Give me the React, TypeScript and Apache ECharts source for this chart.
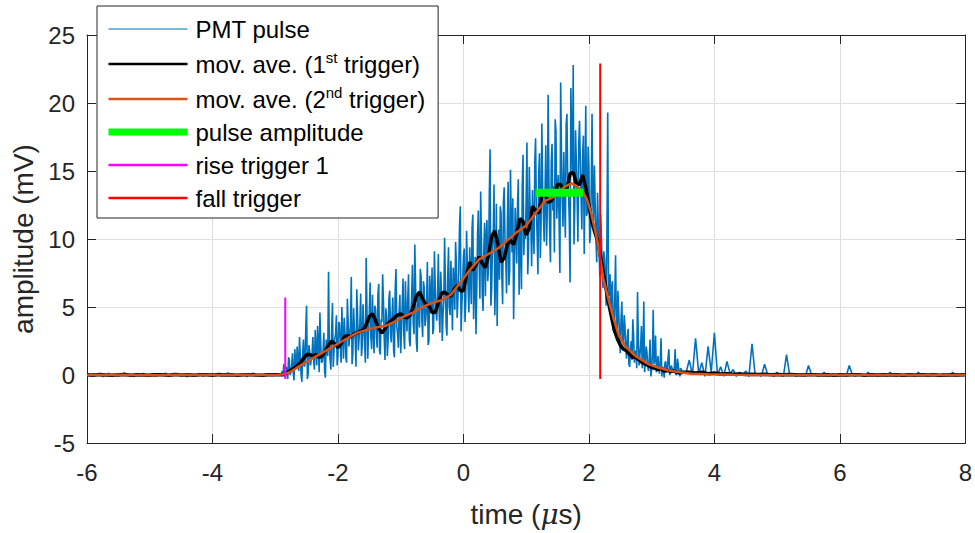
import React, { useEffect, useRef } from 'react';
import * as echarts from 'echarts';

const FONT = '"Liberation Sans", Arial, Helvetica, sans-serif';
const AXIS_COLOR = '#262626';

// Axis ranges / ticks
const xTicks = [-6, -4, -2, 0, 2, 4, 6, 8];
const yTicks = [-5, 0, 5, 10, 15, 20, 25];

// Series names
const names = [
  'PMT pulse',
  'mov. ave. (1st trigger)',
  'mov. ave. (2nd trigger)',
  'pulse amplitude',
  'rise trigger 1',
  'fall trigger',
];

// PMT pulse samples (mV). Segments with their own sampling start/step (µs)
const pmtPreStart = -6.0;
const pmtPreStep = 0.05;
const pmtPre = [
  0.04, -0.06, 0.1, -0.02, 0.07, -0.11, 0.03, 0.12, -0.05, 0.01,
  -0.09, 0.06, 0.14, -0.03, 0.02, -0.12, 0.08, -0.01, 0.11, -0.07,
  0.03, 0.09, -0.1, 0.05, -0.04, 0.13, 0.0, -0.08, 0.06, 0.1,
  -0.05, 0.02, -0.13, 0.07, 0.04, -0.02, 0.11, -0.09, 0.05, 0.01,
  0.12, -0.06, 0.03, -0.1, 0.08, 0.15, -0.04, 0.02, -0.07, 0.09,
  0.0, -0.11, 0.06, 0.13, -0.03, 0.04, -0.08, 0.1, 0.02, -0.05,
  0.07, -0.02,
];
const pmtMainStart = -2.9;
const pmtMainStep = 0.025;
const pmtMain = [
  0.05, -0.1, 0.15, 0.6, -0.3, 1.1, 0.2, 1.6, -0.4, 0.9,
  2.1, 0.3, 1.4, -0.5, 2.6, 0.8, 5.1, 0.1, 1.7, 1.2,
  2.8, 0.4, 1.9, 3.6, 0.2, 2.4, 1.0, 3.1, -0.2, 2.0,
  7.6, 1.1, 3.3, 0.6, 2.7, 4.4, 1.5, 3.8, 0.9, 2.9,
  4.2, 1.3, 5.6, 2.1, 3.7, 0.8, 4.9, 2.6, 6.3, 1.8,
  3.9, 1.4, 5.2, 2.3, 8.6, 1.2, 4.6, 2.8, 5.9, 1.6,
  4.8, 2.0, 6.7, 1.5, 3.9, 5.4, 1.1, 4.3, 2.6, 6.2,
  2.4, 5.7, 1.3, 7.8, 3.1, 4.6, 1.6, 5.2, 2.9, 6.9,
  3.2, 7.4, 2.1, 5.9, 3.8, 9.6, 2.4, 6.1, 3.5, 7.2,
  2.8, 6.4, 4.1, 8.3, 2.5, 5.8, 7.9, 3.4, 6.6, 4.0,
  8.9, 3.1, 6.2, 4.5, 10.1, 3.6, 7.3, 5.0, 8.4, 3.3,
  6.9, 9.8, 4.2, 7.6, 12.4, 5.1, 8.7, 3.9, 10.6, 6.3,
  9.4, 5.2, 11.8, 7.1, 3.0, 10.3, 8.2, 13.5, 6.0, 9.1,
  5.8, 11.4, 7.9, 16.6, 6.3, 10.2, 4.4, 12.6, 8.8, 7.0,
  11.9, 5.2, 13.8, 8.4, 10.9, 6.6, 15.1, 9.0, 4.1, 12.3,
  8.2, 14.4, 9.7, 6.3, 16.2, 10.8, 12.9, 7.4, 15.3, 11.1,
  13.6, 8.9, 17.4, 10.2, 14.8, 8.6, 18.5, 11.7, 13.2, 9.5,
  20.6, 10.4, 15.7, 12.1, 9.0, 17.9, 13.3, 11.2, 21.5, 12.8,
  16.4, 10.1, 19.2, 13.5, 6.8, 17.3, 22.8, 12.4, 15.6, 9.8,
  18.7, 13.1, 16.2, 8.9, 19.8, 12.0, 15.1, 10.4, 19.2, 11.3,
  12.6, 8.3, 11.0, 7.2, 10.1, 6.4, 8.6, 5.1, 19.3, 5.8,
  4.2, 6.9, 3.1, 8.8, 2.5, 4.7, 1.6, 5.4, 2.2, 3.6,
  1.2, 3.4, 0.6, 2.5, 4.1, 0.9, 1.8, 6.1, 0.7, 2.2,
  0.5, 5.4, 0.9, 1.7, 0.3, 2.6, 0.4, 4.8, 1.1, 0.2,
  1.4, 0.1, 2.7, 0.6, -0.2, 1.0, 0.3, 1.9, 0.2, 0.5,
  0.3, 1.9, 0.1, 0.7, -0.1, 0.4, 0.2,
];
// interleaved samples, half a step later
const pmtMidStart = -2.8875;
const pmtMidStep = 0.025;
const pmtMid = [
  0.3, 0.8, -0.2, 0.4, 1.3, 0.0, 0.7, 0.2, 1.9, 0.5,
  0.9, 2.8, 0.0, 1.6, 0.6, 3.4, -0.3, 2.2, 0.7, 1.5,
  1.1, 3.3, 0.7, 2.5, 4.6, 0.9, 1.7, 0.3, 2.6, 1.4,
  2.2, 0.4, 5.3, 1.8, 3.0, 0.7, 3.9, 2.4, 5.0, 1.2,
  3.1, 0.9, 3.9, 2.8, 7.2, 1.6, 3.3, 0.6, 4.5, 2.7,
  6.0, 2.2, 3.6, 0.9, 4.7, 3.0, 6.8, 1.9, 3.4, 5.1,
  2.9, 5.9, 1.8, 4.1, 7.4, 2.7, 4.9, 1.4, 5.6, 3.1,
  4.4, 1.8, 6.3, 3.5, 2.0, 5.9, 3.3, 7.1, 1.9, 4.6,
  5.5, 2.6, 4.5, 8.1, 3.0, 6.6, 1.7, 5.2, 7.8, 4.0,
  6.9, 3.6, 5.1, 2.2, 7.3, 4.6, 3.0, 9.1, 4.8, 5.7,
  4.7, 7.6, 2.5, 5.5, 6.8, 2.9, 9.4, 4.4, 6.0, 7.9,
  4.8, 8.2, 5.7, 10.9, 3.2, 6.8, 9.3, 5.4, 7.9, 4.6,
  7.5, 10.8, 4.1, 8.7, 6.3, 12.1, 5.6, 9.9, 4.7, 11.2,
  10.1, 6.9, 13.2, 5.1, 9.5, 14.0, 7.2, 3.6, 10.7, 12.4,
  7.3, 12.8, 9.9, 6.0, 14.2, 7.7, 11.3, 13.0, 8.1, 10.6,
  12.6, 5.9, 11.3, 13.9, 8.8, 10.0, 17.1, 9.3, 12.2, 8.0,
  10.8, 15.6, 12.4, 7.4, 16.3, 11.0, 13.8, 9.8, 16.9, 12.1,
  14.6, 8.3, 17.0, 13.9, 18.8, 11.5, 14.7, 7.5, 16.5, 10.9,
  12.9, 18.4, 14.2, 11.3, 21.1, 14.8, 9.6, 18.0, 13.0, 16.8,
  15.9, 10.7, 17.6, 14.0, 11.7, 16.8, 9.7, 13.9, 12.6, 15.4,
  9.9, 13.4, 9.0, 11.8, 8.0, 9.1, 7.3, 10.2, 6.7, 7.4,
  6.4, 3.3, 5.6, 4.0, 6.2, 3.0, 4.1, 2.6, 4.4, 1.9,
  2.8, 0.8, 1.9, 1.1, 2.9, 1.6, 0.5, 2.7, 1.4, 3.6,
  1.6, 0.2, 2.1, 0.6, 1.2, -0.1, 1.5, 0.8, 2.9, 0.4,
  0.6, 1.1, -0.1, 0.5, 0.9, 0.2, 1.3, 0.0, 0.7, 0.3,
  0.6, 0.0, 1.2, 0.2, 0.5, 0.1,
];
const pmtPostStart = 3.55;
const pmtPostStep = 0.05;
const pmtPost = [
  0.2, 1.1, 0.0, 2.7, 0.1, 0.9, -0.1, 2.1, 0.2, 3.1,
  0.0, 0.6, -0.1, 1.0, 0.1, 0.4, -0.1, 0.2, 0.0, 0.3,
  -0.1, 2.3, 0.0, 0.1, -0.1, 0.8, 0.0, 0.1, -0.1, 0.2,
  0.0, -0.1, 1.5, 0.0, 0.1, -0.1, 0.0, 0.1, -0.1, 0.7,
  0.0, 0.1, -0.1, 0.0, 0.2, -0.1, 0.0, 0.1, -0.1, 0.0,
  0.1, -0.1, 0.7, 0.0, -0.1, 0.1, 0.0, -0.1, 0.2, 0.0,
  0.1, -0.1, 0.0, 0.1, -0.1, 0.2, 0.0, -0.1, 0.1, 0.0,
  -0.1, 0.1, 0.0, -0.1, 0.2, 0.0, 0.1, -0.1, 0.0, 0.1,
  -0.1, 0.0, 0.1, -0.1, 0.0, 0.2, -0.1, 0.0, 0.1, 0.0,
];

// Moving average (1st trigger), mV
const ma1PreStart = -6.0;
const ma1PreStep = 0.1;
const ma1Pre = [
  0.02, -0.01, 0.03, 0.0, -0.02, 0.01, 0.03, -0.01, 0.02, 0.0,
  -0.02, 0.01, 0.02, -0.01, 0.03, 0.0, 0.01, -0.02, 0.02, 0.01,
  -0.01, 0.03, 0.0, 0.02, -0.01, 0.01, 0.02, 0.0, -0.01, 0.02, 0.01,
];
const ma1MainStart = -2.9;
const ma1MainStep = 0.05;
const ma1Main = [
  0.02, 0.05, 0.2, 0.35, 0.5, 0.7, 0.9, 1.2, 1.5, 1.5,
  1.4, 1.5, 1.3, 1.4, 1.8, 2.2, 2.5, 2.3, 2.0, 2.3,
  2.8, 2.9, 2.8, 3.0, 3.1, 3.2, 3.3, 3.7, 4.3, 4.5,
  4.0, 3.4, 3.1, 3.4, 3.8, 4.0, 4.2, 4.4, 4.5, 4.3,
  4.2, 4.4, 5.0, 5.8, 6.1, 5.6, 5.2, 5.1, 4.6, 4.6,
  5.3, 6.0, 6.1, 5.9, 5.8, 6.3, 6.6, 6.2, 6.2, 7.4,
  8.3, 7.7, 8.1, 8.7, 8.2, 7.9, 8.8, 10.2, 10.6, 9.6,
  8.3, 8.6, 9.6, 9.9, 9.6, 10.4, 11.5, 11.3, 10.3, 10.8,
  12.4, 12.1, 11.9, 13.2, 13.4, 12.7, 12.8, 13.2, 14.0, 14.0,
  13.6, 13.7, 14.8, 14.9, 14.1, 14.0, 14.7, 13.8, 12.5, 11.2,
  10.4, 9.7, 8.3, 7.0, 5.6, 4.5, 3.4, 2.7, 2.2, 1.9,
  1.8, 1.5, 1.3, 1.3, 1.1, 0.9, 0.8, 0.7, 0.55, 0.5,
  0.4, 0.45, 0.3, 0.35, 0.25, 0.3, 0.2, 0.15, 0.2,
];
const ma1PostStart = 3.6;
const ma1PostStep = 0.1;
const ma1Post = [
  0.2, 0.15, 0.2, 0.1, 0.15, 0.08, 0.1, 0.05, 0.08, 0.04,
  0.06, 0.03, 0.05, 0.02, 0.04, 0.01, 0.03, 0.02, 0.0, 0.02,
  0.01, 0.0, 0.02, -0.01, 0.01, 0.0, 0.02, 0.01, -0.01, 0.01,
  0.0, 0.02, 0.0, 0.01, -0.01, 0.01, 0.0, 0.02, 0.0, 0.01,
  -0.01, 0.0, 0.01, 0.0, 0.01,
];

// Moving average (2nd trigger): [time µs, mV]
const ma2 = [
  [-6, 0.0], [-5.5, 0.01], [-5, -0.01], [-4.5, 0.01], [-4, 0.0], [-3.5, 0.01], [-3.1, 0.0],
  [-2.95, 0.01], [-2.85, 0.05], [-2.75, 0.25], [-2.6, 0.7], [-2.45, 1.1], [-2.3, 1.5],
  [-2.15, 1.9], [-2.0, 2.3], [-1.85, 2.7], [-1.7, 3.1], [-1.55, 3.3], [-1.4, 3.5],
  [-1.25, 3.6], [-1.1, 3.9], [-0.95, 4.3], [-0.8, 4.6], [-0.65, 5.0], [-0.5, 5.3],
  [-0.35, 5.5], [-0.2, 5.9], [-0.05, 6.8], [0.1, 7.7], [0.25, 8.5], [0.4, 8.9],
  [0.55, 9.3], [0.7, 9.9], [0.85, 10.5], [1.0, 11.0], [1.15, 11.9], [1.3, 12.8],
  [1.45, 13.1], [1.6, 13.8], [1.72, 14.1], [1.8, 13.9], [1.9, 13.5], [1.97, 12.9],
  [2.03, 12.0], [2.1, 10.6], [2.15, 9.5], [2.23, 7.1], [2.31, 5.6], [2.39, 4.2],
  [2.47, 3.0], [2.58, 2.1], [2.74, 1.4], [2.95, 0.8], [3.1, 0.55], [3.26, 0.35],
  [3.45, 0.2], [3.63, 0.1], [3.9, 0.05], [4.3, 0.02], [5, 0.0], [6, 0.0], [7, 0.0], [8, 0.0],
];

// Markers
const pulseAmplitude = [[1.15, 13.4], [1.91, 13.4]];
const riseTrigger = [[-2.84, -0.3], [-2.84, 5.7]];
const fallTrigger = [[2.18, -0.3], [2.18, 22.9]];

const colors = ['#0072BD', '#000000', '#D95319', '#00FF00', '#FF00FF', '#FF0000'];

function seg(start: number, step: number, vals: number[]) {
  return vals.map((v, i) => [Math.round((start + i * step) * 10000) / 10000, v]);
}

const pmtData = [
  ...seg(pmtPreStart, pmtPreStep, pmtPre),
  ...seg(pmtMainStart, pmtMainStep, pmtMain),
  ...seg(pmtMidStart, pmtMidStep, pmtMid),
  ...seg(pmtPostStart, pmtPostStep, pmtPost),
].sort((a, b) => a[0] - b[0]);
const ma1Data = [
  ...seg(ma1PreStart, ma1PreStep, ma1Pre),
  ...seg(ma1MainStart, ma1MainStep, ma1Main),
  ...seg(ma1PostStart, ma1PostStep, ma1Post),
];

const legendLabels: Record<string, string> = {
  'PMT pulse': '{n|PMT pulse}',
  'mov. ave. (1st trigger)': '{n|mov. ave. (1}{s|st}{n| trigger)}',
  'mov. ave. (2nd trigger)': '{n|mov. ave. (2}{s|nd}{n| trigger)}',
  'pulse amplitude': '{n|pulse amplitude}',
  'rise trigger 1': '{n|rise trigger 1}',
  'fall trigger': '{n|fall trigger}',
};

export default function App() {
  const ref = useRef<HTMLDivElement>(null);
  useEffect(() => {
    if (!ref.current) return;
    const chart = echarts.init(ref.current, undefined, { renderer: 'svg' });
    const axisCommon = {
      type: 'value' as const,
      axisLine: { show: true, onZero: false, lineStyle: { color: AXIS_COLOR, width: 1 } },
      axisTick: { show: true, inside: true, length: 9, lineStyle: { color: AXIS_COLOR, width: 1 } },
    };
    const lineSeries = (name: string, data: any, color: string, width: number, z: number) => ({
      name,
      type: 'line',
      data,
      symbol: 'none',
      showSymbol: false,
      smooth: false,
      clip: true,
      z,
      lineStyle: { color, width, cap: 'butt' },
      itemStyle: { color },
      emphasis: { disabled: true },
    });
    const legendItem = (name: string, width: number) => ({
      name,
      lineStyle: { width },
      itemStyle: { opacity: 0, borderWidth: 0 },
    });
    chart.setOption({
      animation: false,
      backgroundColor: '#ffffff',
      textStyle: { fontFamily: FONT },
      grid: { left: 87, right: 7, top: 35, bottom: 87, containLabel: false },
      legend: {
        show: true,
        orient: 'vertical',
        left: 97,
        top: 6,
        itemWidth: 79,
        itemHeight: 14,
        itemGap: 9,
        padding: [11, 13, 8, 8],
        backgroundColor: '#ffffff',
        borderColor: AXIS_COLOR,
        borderWidth: 1,
        borderRadius: 0,
        selectedMode: false,
        data: [
          legendItem(names[0], 1.2),
          legendItem(names[1], 2.5),
          legendItem(names[2], 2.5),
          legendItem(names[3], 7),
          legendItem(names[4], 2.5),
          legendItem(names[5], 2.5),
        ],
        formatter: (n: string) => legendLabels[n] || n,
        textStyle: {
          fontFamily: FONT,
          fontSize: 24,
          color: '#000',
          padding: [0, 0, 0, 3],
          rich: {
            n: { fontFamily: FONT, fontSize: 24, color: '#000', lineHeight: 28 },
            s: { fontFamily: FONT, fontSize: 15, color: '#000', lineHeight: 15, verticalAlign: 'top' },
          },
        },
      },
      xAxis: [
        {
          ...axisCommon,
          position: 'bottom',
          min: xTicks[0],
          max: xTicks[xTicks.length - 1],
          interval: 2,
          axisLabel: { show: true, fontSize: 24, color: AXIS_COLOR, fontFamily: FONT, margin: 17 },
          splitLine: { show: true, lineStyle: { color: '#dfdfdf', width: 1 } },
          name: '{a|time (}{m|μ}{a|s)}',
          nameLocation: 'middle',
          nameGap: 57,
          nameTextStyle: {
            rich: {
              a: { fontSize: 28, color: AXIS_COLOR, fontFamily: FONT },
              m: { fontSize: 28, color: AXIS_COLOR, fontFamily: '"DejaVu Serif", serif', fontStyle: 'italic' },
            },
          },
        },
        {
          ...axisCommon,
          position: 'top',
          min: xTicks[0],
          max: xTicks[xTicks.length - 1],
          interval: 2,
          axisLabel: { show: false },
          splitLine: { show: false },
        },
      ],
      yAxis: [
        {
          ...axisCommon,
          position: 'left',
          min: yTicks[0],
          max: yTicks[yTicks.length - 1],
          interval: 5,
          axisLabel: { show: true, fontSize: 24, color: AXIS_COLOR, fontFamily: FONT, margin: 12 },
          splitLine: { show: true, lineStyle: { color: '#dfdfdf', width: 1 } },
          name: 'amplitude (mV)',
          nameLocation: 'middle',
          nameGap: 50,
          nameTextStyle: { fontSize: 28, color: AXIS_COLOR, fontFamily: FONT },
        },
        {
          ...axisCommon,
          position: 'right',
          min: yTicks[0],
          max: yTicks[yTicks.length - 1],
          interval: 5,
          axisLabel: { show: false },
          splitLine: { show: false },
        },
      ],
      series: [
        lineSeries(names[0], pmtData, colors[0], 1.6, 2),
        lineSeries(names[1], ma1Data, colors[1], 3.5, 3),
        lineSeries(names[2], ma2, colors[2], 2.5, 4),
        lineSeries(names[3], pulseAmplitude, colors[3], 8, 5),
        lineSeries(names[4], riseTrigger, colors[4], 2, 5),
        lineSeries(names[5], fallTrigger, colors[5], 2, 5),
      ],
    });
    return () => chart.dispose();
  }, []);
  return (
    <div
      ref={ref}
      style={{ position: 'fixed', left: 0, top: 0, width: 975, height: 533, background: '#fff' }}
    />
  );
}
